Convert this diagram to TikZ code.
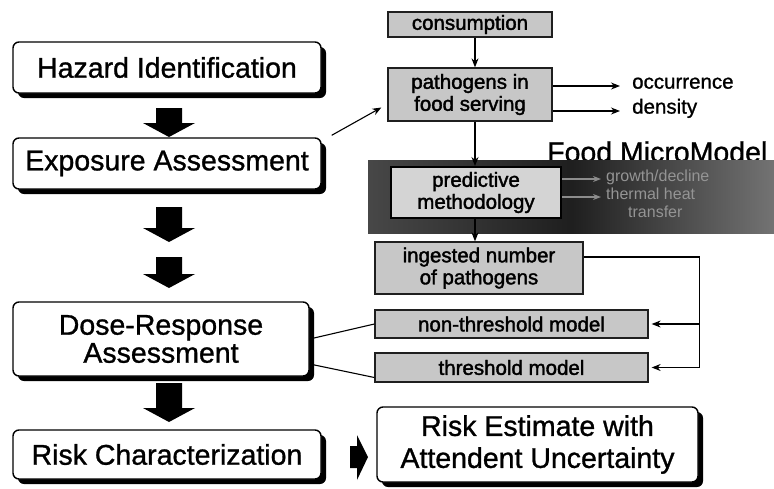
\documentclass[tikz,border=0pt]{standalone}
\usepackage{fontspec}
\setmainfont{Liberation Sans}
\newfontfamily\heavyish{Liberation Sans}[FakeBold=1]
\newfontfamily\heavier{Liberation Sans}[FakeBold=1.8]
\usetikzlibrary{arrows.meta,calc}

% filled block arrow pointing down: centre x, top y, tip y
\newcommand{\dnblock}[3]{%
  \fill[black] ({#1-13},#2) -- ({#1+13},#2) -- ({#1+13},{#3-14}) -- ({#1+26},{#3-14})
    -- (#1,#3) -- ({#1-26},{#3-14}) -- ({#1-13},{#3-14}) -- cycle;}
% solid shadow, offset down and right, behind a rounded box given by its corners
\newcommand{\boxshadow}[4]{%
  \fill[black, rounded corners=6pt] ({#1+5},{#2+5}) rectangle ({#3+5},{#4+5});}

\tikzset{
  bigbox/.style={draw=black, line width=1.4pt, rounded corners=6pt, fill=white,
    align=center, inner sep=0pt, font=\heavyish\fontsize{28.5}{28}\selectfont},
  smallbox/.style={draw=black!88, line width=1.3pt, fill=black!22, align=center,
    inner sep=0pt, font=\heavier\fontsize{20.5}{22}\selectfont},
  outlabel/.style={inner sep=0pt, anchor=mid west, font=\heavyish\fontsize{20.5}{22}\selectfont},
  bandlabel/.style={inner sep=0pt, anchor=mid west, text=black!42, font=\fontsize{16}{17}\selectfont},
  link/.style={draw=black, line width=1.1pt},
  arr/.style={link, -{Stealth[length=9pt,width=7pt]}},
  faintarr/.style={draw=black!45, line width=1.1pt, -{Stealth[length=8pt,width=6pt]}}
}

\begin{document}
\begin{tikzpicture}[x=1pt,y=-1pt]
\useasboundingbox (0,0) rectangle (774,488);

% shadows of the main steps
\boxshadow{13}{42}{321}{93}
\boxshadow{13}{138}{321}{189}
\boxshadow{13}{302}{309}{376}
\boxshadow{13}{430}{321}{479}
\boxshadow{377}{407}{698}{482}

% main risk-assessment steps
\node[bigbox, minimum width=308pt, minimum height=51pt] (haz) at (167,67.5) {Hazard Identification};
\node[bigbox, minimum width=308pt, minimum height=51pt] (exp) at (167,163.5) {Exposure Assessment};
\node[bigbox, minimum width=296pt, minimum height=74pt] (dose) at (161,339) {Dose-Response\\Assessment};
\node[bigbox, minimum width=308pt, minimum height=49pt] (char) at (167,454.5) {Risk Characterization};
\node[bigbox, minimum width=321pt, minimum height=75pt, font=\heavyish\fontsize{28.5}{32}\selectfont]
  (est) at (537.5,444.5) {Risk Estimate with\\Attendent Uncertainty};

% block arrows between the steps
\dnblock{169}{108}{137}
\dnblock{169}{207}{242}
\dnblock{169}{257}{288}
\dnblock{169}{383}{422}
\fill[black] (350,446) -- (357,446) -- (357,435) -- (368,457) -- (357,480) -- (357,468) -- (350,468) -- cycle;

% exposure chain
\node[smallbox, minimum width=164pt, minimum height=25pt] (cons) at (470,24.5) {consumption};
\node[smallbox, minimum width=164pt, minimum height=53pt] (path) at (470,94.5) {pathogens in\\food serving};

% Food MicroModel band
\node[anchor=base west, inner sep=0pt, font=\heavyish\fontsize{28.5}{28}\selectfont] (fmm) at (547,162) {Food MicroModel};
\fill[left color=black!72, right color=black!55, middle color=black!88] (368,160) rectangle (774,233);
\node[smallbox, draw=black, line width=2pt, fill=black!17, minimum width=170pt, minimum height=51pt]
  (pred) at (476,192.5) {predictive\\methodology};
\node[bandlabel] (grow) at (606,179) {growth/decline};
\node[bandlabel] (therm) at (606,197) {thermal heat};
\node[bandlabel] (transf) at (628,215) {transfer};
\draw[faintarr] (pred.east |- grow.mid west) -- ([xshift=-5pt]grow.mid west);
\draw[faintarr] (pred.east |- therm.mid west) -- ([xshift=-5pt]therm.mid west);

\node[smallbox, minimum width=208pt, minimum height=52pt] (ing) at (479,268) {ingested number\\of pathogens};
\node[smallbox, minimum width=273pt, minimum height=28pt] (nonthr) at (511.5,324) {non-threshold model};
\node[smallbox, minimum width=273pt, minimum height=29pt] (thr) at (511.5,367.5) {threshold model};

% labels of the serving
\node[outlabel] (occ) at (632,86) {occurrence};
\node[outlabel] (dens) at (632,111) {density};
\draw[arr] (path.east |- occ.mid west) -- ([xshift=-12pt]occ.mid west);
\draw[arr] (path.east |- dens.mid west) -- ([xshift=-12pt]dens.mid west);

% vertical flow of the exposure chain
\coordinate (xc) at (475,0);
\draw[arr] (cons.south -| xc) -- (path.north -| xc);
\draw[arr] (path.south -| xc) -- (pred.north -| xc);
\draw[arr] (pred.south -| xc) -- (ing.north -| xc);

% links from the main steps
\draw[arr] ($(exp.north east)+(10,-2)$) -- ($(path.west)+(-6,13)$);
\draw[link] (dose.east) -- (nonthr.west);
\draw[link] ($(dose.east)+(0,25)$) -- ($(thr.west)+(0,10)$);

% ingested number feeds both dose-response models
\draw[arr, shorten >=3pt] ($(ing.east)+(0,-11)$) -| ($(thr.east)+(51,0)$) -- (thr.east);
\draw[arr, shorten >=3pt] ($(nonthr.east)+(51,0)$) -- (nonthr.east);
\end{tikzpicture}
\end{document}
